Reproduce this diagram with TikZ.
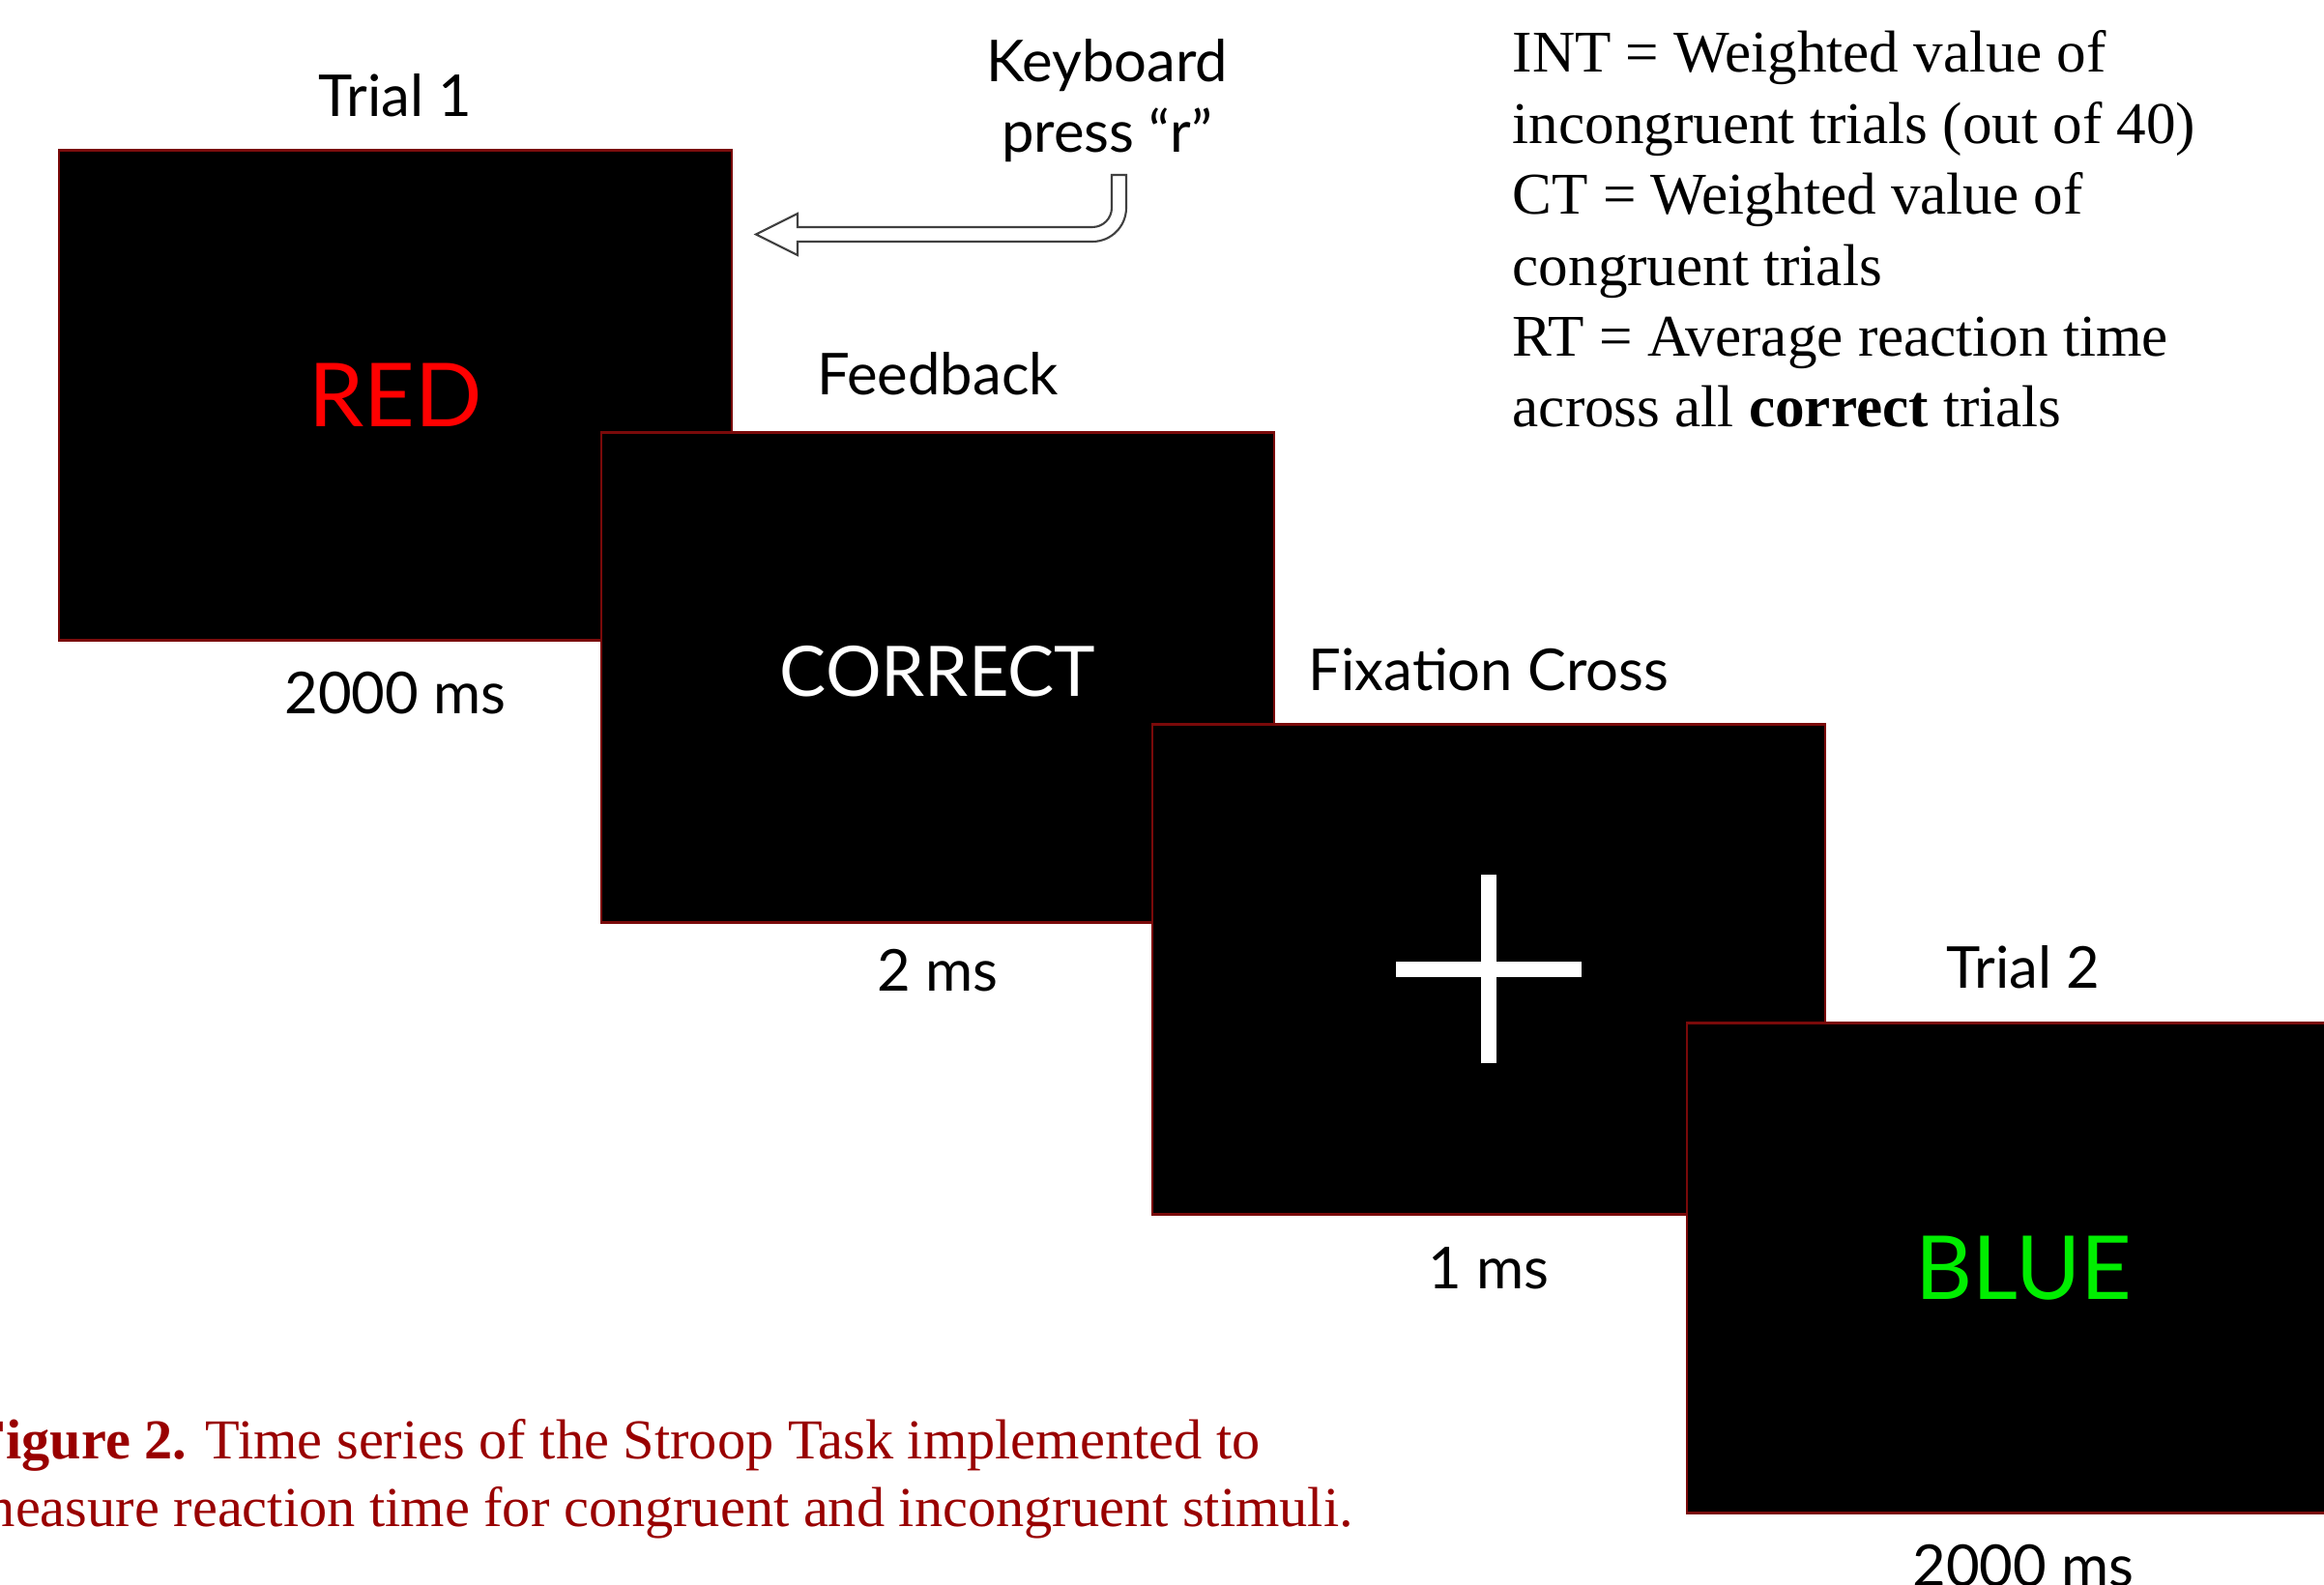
\documentclass[tikz,border=0pt]{standalone}
\usepackage{fontspec}
\setmainfont{Liberation Serif}
\newfontfamily\latofont{Lato}
\usetikzlibrary{positioning,calc}
\definecolor{boxedge}{HTML}{7A0A0A}
\definecolor{capred}{HTML}{990000}
\definecolor{wordred}{HTML}{FF0000}
\definecolor{wordgreen}{HTML}{00EE00}
\tikzset{
	screen/.style={draw=boxedge, line width=0.6pt, fill=black, minimum width=6.96cm, minimum height=5.07cm, inner sep=0pt},
	lbl/.style={font=\latofont\fontsize{17}{20.4}\selectfont, inner sep=0pt, anchor=base},
	word/.style={font=\latofont\fontsize{26}{30}\selectfont, inner sep=0pt},
}
\begin{document}
\begin{tikzpicture}
	\useasboundingbox (0,0) rectangle (24.04,16.39);
	\clip (0,0) rectangle (24.04,16.39);
		% the four screens, each one on top of the one before
		\node[screen] (trial1) at (4.09,12.30) {};
			\node[word, text=wordred] (red) at (trial1.center) {RED};
		\node[screen] (feedback) at (9.70,9.38) {};
			\node[word, text=white, font=\latofont\fontsize{20.5}{24}\selectfont] (correct) at ([yshift=0.6mm]feedback.center) {CORRECT};
		\node[screen] (fixation) at (15.40,6.36) {};
			\draw[white, line width=4.8pt] ([xshift=-9.6mm]fixation.center) -- ([xshift=9.6mm]fixation.center);
			\draw[white, line width=4.8pt] ([yshift=-9.75mm]fixation.center) -- ([yshift=9.75mm]fixation.center);
		\node[screen] (trial2) at (20.93,3.27) {};
			\node[word, text=wordgreen] (blue) at (trial2.center) {BLUE};
		% titles and durations
		\node[lbl] (title1) at ([yshift=3.4mm]trial1.north) {Trial 1};
		\node[lbl] (time1) at ([yshift=-7.5mm]trial1.south) {2000 ms};
		\node[lbl] (title2) at ([yshift=3.8mm]feedback.north) {Feedback};
		\node[lbl] (time2) at ([yshift=-7mm]feedback.south) {2 ms};
		\node[lbl] (title3) at ([yshift=3.4mm]fixation.north) {Fixation Cross};
		\node[lbl] (time3) at ([yshift=-7.6mm]fixation.south) {1 ms};
		\node[lbl] (title4) at ([yshift=3.5mm]trial2.north) {Trial 2};
		\node[lbl] (time4) at ([yshift=-7.5mm]trial2.south) {2000 ms};
		% key press and its hollow arrow (base = last line)
		\node[lbl, align=center] (keypress) at (11.45,14.81) {Keyboard\\[0.5pt] press “r”};
		\coordinate (stem) at (11.575,14.58);
		\coordinate (tip) at (7.82,13.965);
		\draw[black!75, fill=white, line width=0.6pt] ($(stem)+(-0.075,0)$) -- ($(stem)+(0.075,0)$) -- (11.65,14.24) arc (0:-90:0.35) -- (8.25,13.89) -- (8.25,13.75) -- (tip) -- (8.25,14.18) -- (8.25,14.04) -- (11.30,14.04) arc (-90:0:0.2) -- cycle;
		% legend and caption
		\node[anchor=base west, align=left, inner sep=0pt, font=\fontsize{17.4}{20.9}\selectfont] (notes) at (15.64,11.97) {INT = Weighted value of\\ incongruent trials (out of 40)\\ CT = Weighted value of\\ congruent trials\\ RT = Average reaction time\\ across all \textbf{correct} trials};
		\node[anchor=base west, align=left, inner sep=0pt, text=capred, font=\fontsize{16.6}{19.7}\selectfont] (caption) at (-0.30,0.60) {\textbf{Figure 2.} Time series of the Stroop Task implemented to\\ measure reaction time for congruent and incongruent stimuli.};
\end{tikzpicture}
\end{document}
